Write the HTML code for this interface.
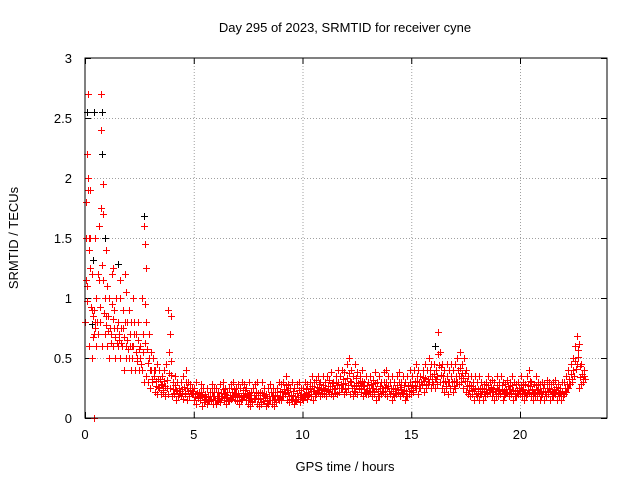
<!DOCTYPE html>
<html><head><meta charset="utf-8"><style>
body{margin:0;background:#fff}
svg{display:block;font-family:"Liberation Sans",sans-serif;font-size:13px}
</style></head><body>
<svg id="chart" width="640" height="480" viewBox="0 0 640 480">
<text x="345" y="32" text-anchor="middle">Day 295 of 2023, SRMTID for receiver cyne</text>
<text transform="translate(18,238) rotate(-90)" text-anchor="middle">SRMTID / TECUs</text>
<text x="345" y="471" text-anchor="middle">GPS time / hours</text>
<g id="grid"></g>
<g id="ticks"></g>
<g id="marks"></g>
<rect x="85" y="58" width="522" height="360" fill="none" stroke="#000" stroke-width="1"/>
</svg>
<script>
const xTicks=[0,5,10,15,20];
const yTicks=[0,0.5,1,1.5,2,2.5,3];
const yTickLabels=["0","0.5","1","1.5","2","2.5","3"];
const sampleStep=0.1;
const seriesLow=[
0.8,1.1,0.6,0.5,0.7,0.6,0.7,0.8,0.6,0.7,
0.6,0.5,0.7,0.6,0.5,0.6,0.5,0.6,0.4,0.5,
0.5,0.4,0.6,0.4,0.5,0.4,0.4,0.3,0.35,0.3,
0.25,0.3,0.22,0.2,0.25,0.2,0.22,0.18,0.2,0.25,
0.18,0.2,0.15,0.2,0.18,0.16,0.2,0.15,0.18,0.2,
0.15,0.12,0.18,0.15,0.1,0.15,0.12,0.14,0.15,0.12,
0.12,0.15,0.13,0.18,0.15,0.12,0.14,0.16,0.18,0.15,
0.14,0.12,0.16,0.18,0.15,0.12,0.1,0.14,0.16,0.12,
0.1,0.12,0.14,0.1,0.12,0.15,0.12,0.1,0.13,0.15,
0.15,0.18,0.2,0.15,0.13,0.15,0.12,0.14,0.16,0.13,
0.15,0.18,0.16,0.2,0.18,0.15,0.2,0.22,0.18,0.2,
0.2,0.18,0.22,0.2,0.18,0.25,0.2,0.22,0.25,0.2,
0.22,0.25,0.2,0.18,0.22,0.2,0.25,0.22,0.18,0.2,
0.2,0.22,0.18,0.2,0.15,0.18,0.2,0.22,0.2,0.18,
0.2,0.15,0.18,0.2,0.22,0.18,0.2,0.15,0.18,0.2,
0.2,0.22,0.25,0.2,0.25,0.28,0.22,0.25,0.3,0.25,
0.28,0.25,0.35,0.3,0.25,0.22,0.25,0.2,0.25,0.22,
0.25,0.3,0.28,0.3,0.25,0.22,0.2,0.18,0.2,0.15,
0.18,0.15,0.2,0.15,0.18,0.2,0.22,0.18,0.15,0.2,
0.18,0.2,0.15,0.2,0.22,0.18,0.2,0.15,0.18,0.2,
0.2,0.18,0.15,0.2,0.22,0.18,0.15,0.2,0.18,0.15,
0.2,0.15,0.18,0.2,0.15,0.18,0.2,0.15,0.18,0.15,
0.2,0.22,0.25,0.28,0.3,0.35,0.45,0.25,0.28,0.3];
const seriesHigh=[
1.5,2.7,1.9,1.2,0.9,1.0,1.6,2.7,1.7,1.0,
1.1,1.0,1.2,0.9,1.0,0.8,1.0,0.9,1.2,0.8,
0.9,0.8,1.0,0.7,0.8,0.6,1.0,1.6,0.8,0.7,
0.55,0.5,0.4,0.45,0.4,0.35,0.4,0.45,0.9,0.7,
0.3,0.35,0.3,0.25,0.3,0.35,0.4,0.3,0.28,0.25,
0.25,0.3,0.22,0.28,0.25,0.2,0.25,0.22,0.28,0.25,
0.25,0.22,0.28,0.3,0.25,0.22,0.25,0.28,0.3,0.25,
0.28,0.25,0.3,0.28,0.25,0.3,0.22,0.25,0.28,0.3,
0.22,0.3,0.25,0.2,0.25,0.28,0.25,0.22,0.25,0.3,
0.28,0.3,0.35,0.28,0.25,0.3,0.25,0.28,0.3,0.25,
0.25,0.3,0.28,0.3,0.35,0.3,0.32,0.35,0.3,0.35,
0.3,0.35,0.32,0.38,0.3,0.35,0.4,0.35,0.4,0.38,
0.45,0.5,0.4,0.35,0.45,0.38,0.35,0.4,0.3,0.35,
0.3,0.35,0.32,0.38,0.3,0.35,0.3,0.38,0.4,0.35,
0.3,0.35,0.3,0.35,0.38,0.3,0.35,0.3,0.35,0.4,
0.35,0.4,0.45,0.4,0.35,0.4,0.45,0.4,0.5,0.45,
0.45,0.4,0.72,0.55,0.45,0.4,0.45,0.4,0.45,0.4,
0.45,0.5,0.55,0.45,0.5,0.4,0.35,0.35,0.3,0.35,
0.3,0.35,0.3,0.28,0.3,0.35,0.3,0.32,0.3,0.35,
0.3,0.35,0.3,0.28,0.32,0.3,0.35,0.3,0.28,0.3,
0.35,0.3,0.28,0.35,0.4,0.3,0.28,0.35,0.3,0.28,
0.3,0.28,0.32,0.3,0.28,0.3,0.32,0.28,0.25,0.3,
0.3,0.35,0.4,0.45,0.5,0.6,0.68,0.62,0.45,0.4];
const extraTimes=[0.05,0.1,0.15,0.2,0.25,0.3,0.45,0.6,0.75,0.85,0.95,1.3,1.6,1.9,2.75,2.8,3.95,0.4];
const extraValues=[1.8,2.2,2.0,1.4,1.5,0.9,1.5,1.2,2.4,1.95,1.4,1.25,1.15,1.05,1.45,1.25,0.85,0.0];
const blackTimes=[0.1,0.4,0.8,0.8,2.7,0.9,1.5,0.3,0.2,16.1,0.35];
const blackValues=[2.55,2.55,2.55,2.2,1.68,1.5,1.28,0.78,0.6,0.6,1.32];

const X0=85,X1=607,Y0=418,Y1=58,XMAX=24,YMAX=3;
const xs=v=>X0+(v/XMAX)*(X1-X0);
const ys=v=>Y0-(v/YMAX)*(Y0-Y1);
const NS="http://www.w3.org/2000/svg";
const grid=document.getElementById('grid'),ticks=document.getElementById('ticks'),marks=document.getElementById('marks');
function line(p,x1,y1,x2,y2,st,dash){const l=document.createElementNS(NS,'line');l.setAttribute('x1',x1);l.setAttribute('y1',y1);l.setAttribute('x2',x2);l.setAttribute('y2',y2);l.setAttribute('stroke',st);if(dash)l.setAttribute('stroke-dasharray',dash);p.appendChild(l);return l;}
function text(p,x,y,s,anchor){const t=document.createElementNS(NS,'text');t.setAttribute('x',x);t.setAttribute('y',y);t.setAttribute('text-anchor',anchor);t.textContent=s;p.appendChild(t);return t;}
xTicks.forEach(v=>{const x=xs(v)+0.5;
 if(v>0){const g=line(grid,x,Y0,x,Y1,'#a0a0a0','1,2');
 
 }
 line(ticks,x,Y0,x,Y0-6,'#000');line(ticks,x,Y1,x,Y1+6,'#000');
 const t=text(ticks,xs(v),Y0+21,String(v),'middle');
 
 });
yTicks.forEach((v,i)=>{const y=ys(v)+0.5;
 if(v>0&&v<YMAX){const g=line(grid,X0,y,X1,y,'#a0a0a0','1,2');
 
 }
 line(ticks,X0,y,X0+6,y,'#000');line(ticks,X1,y,X1-6,y,'#000');
 const t=text(ticks,X0-13,ys(v)+5,yTickLabels[i],'end');
 
 });
function cross(t,v,col,name){const p=document.createElementNS(NS,'path');const x=Math.round(xs(t))+0.5,y=Math.round(ys(v))+0.5;
 p.setAttribute('d',`M${x-3.5} ${y}H${x+3.5}M${x} ${y-3.5}V${y+3.5}`);p.setAttribute('stroke',col);p.setAttribute('fill','none');
 
 
 marks.appendChild(p);}
blackTimes.forEach((t,i)=>cross(t,blackValues[i],'#000','black-point'));
seriesLow.forEach((v,i)=>{const t=i*sampleStep;cross(t,v,'#f00','red-point');
 cross(t+sampleStep/2,(v+seriesHigh[i])/2,'#f00','red-point');cross(t+sampleStep/4,seriesHigh[i],'#f00','red-point');
 cross(t+sampleStep*0.75,v+(seriesHigh[i]-v)*0.25,'#f00','red-point');});
extraTimes.forEach((t,i)=>cross(t,extraValues[i],'#f00','red-point'));
</script>
</body></html>
